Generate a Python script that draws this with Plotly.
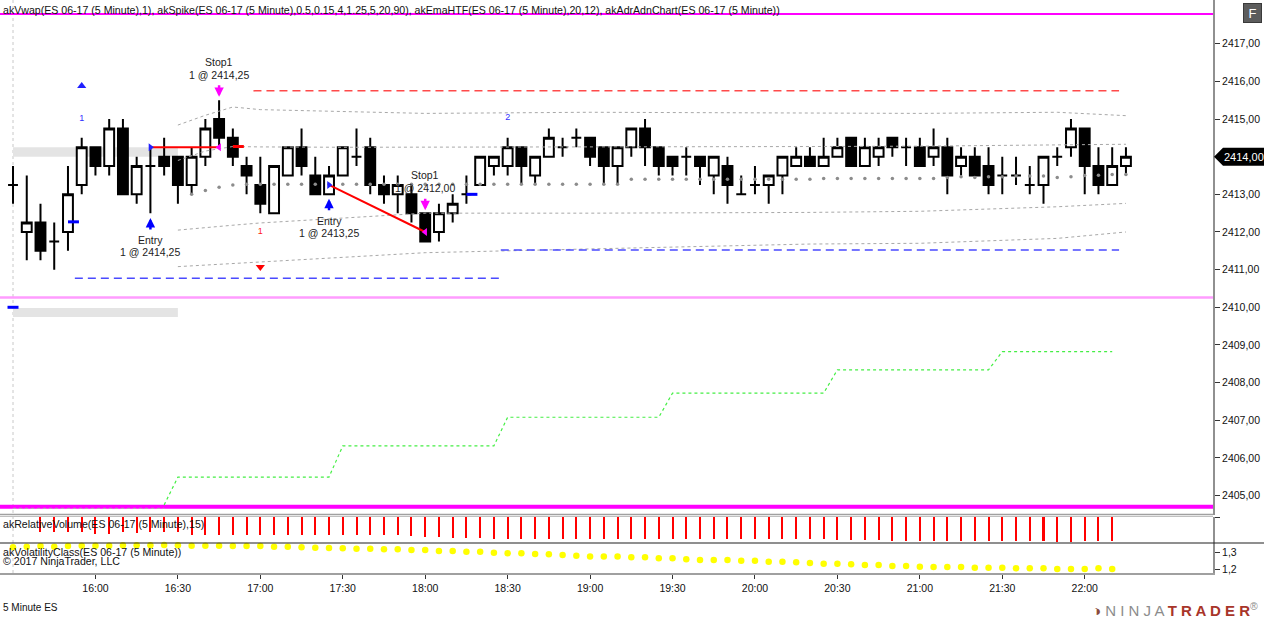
import plotly.graph_objects as go
from datetime import datetime, timedelta

# ---------------------------------------------------------------- data
def t(hm):
    p = [int(v) for v in hm.split(":")]
    while len(p) < 3:
        p.append(0)
    return datetime(2017, 5, 25, p[0], p[1], p[2])

bar_times = [t("15:30") + timedelta(minutes=5 * i) for i in range(82)]

opens = [2413.25, 2412.0, 2412.25, 2411.75, 2412.0, 2413.25, 2414.25, 2413.75, 2414.75, 2413.0,
         2413.75, 2414.0, 2414.0, 2413.25, 2414.0, 2415.0, 2414.5, 2413.75, 2413.25, 2412.5,
         2413.5, 2414.25, 2413.5, 2413.0, 2413.5, 2414.0, 2414.25, 2413.25, 2413.0, 2413.0,
         2412.5, 2412.0, 2412.5, 2413.0, 2413.25, 2413.75, 2413.75, 2414.25, 2413.5, 2414.0,
         2414.25, 2414.5, 2414.5, 2414.25, 2413.75, 2414.25, 2414.75, 2414.25, 2414.0, 2414.0,
         2414.0, 2413.5, 2413.75, 2413.0, 2413.25, 2413.25, 2413.5, 2413.75, 2414.0, 2413.75,
         2414.0, 2414.5, 2413.75, 2414.0, 2414.5, 2414.25, 2414.25, 2414.0, 2414.25, 2413.75,
         2414.0, 2413.75, 2413.5, 2413.5, 2413.25, 2413.25, 2414.0, 2414.25, 2414.75, 2413.75,
         2413.25, 2413.75]
highs = [2413.75, 2413.5, 2412.75, 2412.25, 2413.75, 2414.5, 2414.25, 2415.0, 2415.0, 2414.0,
         2414.25, 2414.5, 2414.0, 2414.25, 2415.0, 2415.5, 2414.75, 2414.0, 2414.0, 2413.75,
         2414.25, 2414.75, 2414.0, 2413.75, 2414.25, 2414.75, 2414.5, 2413.5, 2413.5, 2413.25,
         2412.5, 2412.75, 2413.0, 2413.5, 2414.0, 2414.0, 2414.5, 2414.25, 2414.0, 2414.75,
         2414.5, 2414.75, 2414.5, 2414.25, 2414.25, 2414.75, 2415.0, 2414.25, 2414.0, 2414.25,
         2414.0, 2414.0, 2414.0, 2413.5, 2413.75, 2413.5, 2414.0, 2414.25, 2414.25, 2414.5,
         2414.5, 2414.5, 2414.5, 2414.5, 2414.5, 2414.5, 2414.5, 2414.75, 2414.5, 2414.25,
         2414.25, 2414.25, 2414.0, 2414.0, 2413.75, 2414.0, 2414.25, 2415.0, 2414.75, 2414.25,
         2414.25, 2414.25]
lows = [2412.75, 2411.25, 2411.25, 2411.0, 2411.5, 2413.0, 2413.5, 2413.5, 2413.0, 2412.75,
        2412.5, 2413.5, 2412.75, 2413.0, 2413.75, 2414.25, 2413.75, 2413.0, 2412.5, 2412.5,
        2413.5, 2413.5, 2413.0, 2413.0, 2413.5, 2413.75, 2413.0, 2412.75, 2412.5, 2412.25,
        2411.75, 2411.75, 2412.25, 2412.75, 2413.25, 2413.5, 2413.5, 2413.25, 2413.25, 2414.0,
        2414.0, 2414.25, 2413.75, 2413.25, 2413.25, 2414.0, 2413.75, 2413.5, 2413.5, 2413.5,
        2413.25, 2413.0, 2412.75, 2413.0, 2413.0, 2412.75, 2413.0, 2413.75, 2413.75, 2413.75,
        2414.0, 2413.75, 2413.75, 2413.75, 2414.0, 2413.75, 2413.75, 2413.75, 2413.0, 2413.5,
        2413.5, 2413.0, 2413.0, 2413.25, 2413.0, 2412.75, 2413.75, 2414.0, 2413.0, 2413.0,
        2413.25, 2413.5]
closes = [2413.25, 2412.25, 2411.5, 2411.75, 2413.0, 2414.25, 2413.75, 2414.75, 2413.0, 2413.75,
          2413.75, 2413.75, 2413.25, 2414.0, 2414.75, 2414.5, 2414.0, 2413.5, 2412.75, 2413.75,
          2414.25, 2413.75, 2413.0, 2413.5, 2414.25, 2414.0, 2413.25, 2413.0, 2413.25, 2412.5,
          2411.75, 2412.5, 2412.75, 2413.0, 2414.0, 2414.0, 2414.25, 2413.75, 2414.0, 2414.5,
          2414.25, 2414.5, 2414.0, 2413.75, 2414.25, 2414.75, 2414.25, 2413.75, 2413.75, 2414.0,
          2413.75, 2414.0, 2413.25, 2413.0, 2413.25, 2413.5, 2414.0, 2414.0, 2413.75, 2414.0,
          2414.25, 2413.75, 2414.25, 2414.25, 2414.25, 2414.25, 2413.75, 2414.25, 2413.5, 2414.0,
          2413.5, 2413.25, 2413.5, 2413.5, 2413.25, 2414.0, 2414.0, 2414.75, 2413.75, 2413.25,
          2413.75, 2414.0]

# VWAP bands (sparse readings)
band_times = ["16:30", "16:40", "16:50", "17:00", "17:30", "18:00", "19:00", "20:20", "21:00", "21:50", "22:15"]
band_upper = [2414.84, 2415.10, 2415.32, 2415.25, 2415.20, 2415.15, 2415.18, 2415.16, 2415.15, 2415.18, 2415.09]
band_mid = [2413.90, 2414.15, 2414.27, 2414.26, 2414.25, 2414.25, 2414.27, 2414.27, 2414.28, 2414.32, 2414.33]
band_low1 = [2412.05, 2412.12, 2412.18, 2412.24, 2412.38, 2412.50, 2412.50, 2412.52, 2412.55, 2412.67, 2412.76]
band_low2 = [2411.08, 2411.12, 2411.17, 2411.21, 2411.34, 2411.45, 2411.55, 2411.68, 2411.70, 2411.83, 2412.00]

# grey EMA dots, bars 14..82
ema_dots = [2413.0, 2413.1, 2413.19, 2413.25,
            2413.27, 2413.27, 2413.27, 2413.27, 2413.27, 2413.27, 2413.27, 2413.27, 2413.27, 2413.27,
            2413.27, 2413.27, 2413.27, 2413.27, 2413.27, 2413.27, 2413.27, 2413.27, 2413.27, 2413.27,
            2413.27, 2413.27, 2413.27, 2413.27, 2413.27, 2413.27, 2413.27, 2413.27,
            2413.4, 2413.4, 2413.4, 2413.4, 2413.4, 2413.4, 2413.4, 2413.4, 2413.4, 2413.4,
            2413.4, 2413.4, 2413.4, 2413.4,
            2413.42, 2413.42, 2413.42, 2413.42, 2413.42, 2413.42, 2413.42, 2413.42, 2413.42,
            2413.45, 2413.47, 2413.45, 2413.47, 2413.47, 2413.49, 2413.49, 2413.49, 2413.45, 2413.47,
            2413.5, 2413.51, 2413.53, 2413.53]

# ADR chart: step line (bars 12..81), pre-line (bars 1..12), levels
adr_step = [2404.75,
            2405.49, 2405.49, 2405.49, 2405.49, 2405.49, 2405.49, 2405.49, 2405.49, 2405.49, 2405.49, 2405.49, 2405.49,
            2406.32, 2406.32, 2406.32, 2406.32, 2406.32, 2406.32, 2406.32, 2406.32, 2406.32, 2406.32, 2406.32, 2406.32,
            2407.08, 2407.08, 2407.08, 2407.08, 2407.08, 2407.08, 2407.08, 2407.08, 2407.08, 2407.08, 2407.08, 2407.08,
            2407.72, 2407.72, 2407.72, 2407.72, 2407.72, 2407.72, 2407.72, 2407.72, 2407.72, 2407.72, 2407.72, 2407.72,
            2408.34, 2408.34, 2408.34, 2408.34, 2408.34, 2408.34, 2408.34, 2408.34, 2408.34, 2408.34, 2408.34, 2408.34,
            2408.82, 2408.82, 2408.82, 2408.82, 2408.82, 2408.82, 2408.82, 2408.82, 2408.82]
adr_pre = [2404.66, 2404.66, 2404.66, 2404.66, 2404.66, 2404.66, 2404.66, 2404.66, 2404.66, 2404.66, 2404.66, 2404.66]
adr_levels = [2417.79, 2410.26, 2404.70]
adr_colors = ["#ff00ff", "#ff9cff", "#ff00ff"]
adr_widths = [2, 2.5, 4]

# grey zones (start, end, low, high)
zone_start = ["15:30", "15:30"]
zone_end = ["16:30", "16:30"]
zone_low = [2414.0, 2409.74]
zone_high = [2414.25, 2409.98]

# spike dashed levels
spike_lv_price = [2415.75, 2410.77, 2411.52]
spike_lv_start = ["16:57:30", "15:52:30", "18:27:30"]
spike_lv_end = ["22:12:30", "18:27:30", "22:12:30"]
spike_lv_color = ["#ff4a4a", "#4a4aff", "#4a4aff"]

# spike markers
spike_up_time, spike_up_price = ["15:55"], [2415.88]
spike_dn_time, spike_dn_price = ["17:00"], [2411.07]
spike_num_time = ["15:55", "17:00", "18:30"]
spike_num_price = [2415.0, 2412.0, 2415.03]
spike_num_text = ["1", "1", "2"]
spike_num_color = ["#3030ff", "#ff2020", "#3030ff"]

# short dashes (start, end, price, colour)
dash_start = ["15:28", "15:50", "18:15", "16:50"]
dash_end = ["15:32", "15:54", "18:19", "16:54"]
dash_price = [2410.0, 2412.27, 2413.0, 2414.27]
dash_color = ["#0000ff", "#0000ff", "#0000ff", "#ff0000"]

# trades
entry_time = ["16:20", "17:25"]
entry_price = [2414.25, 2413.25]
entry_tip = [2412.37, 2412.88]
exit_time = ["16:45", "18:00"]
exit_price = [2414.25, 2412.00]
exit_tip = [2415.59, 2412.58]
qty = [1, 1]

# relative volume (bars 3..81)
relvol = [0.75, 0.75, 0.75, 0.75, 0.83, 0.83, 0.75, 0.8, 0.75, 0.75, 0.75,
          0.92, 0.92, 0.92, 0.92, 0.92, 0.92, 0.92, 0.92, 0.92, 0.92, 0.92, 0.92, 0.92, 0.92, 0.92, 0.92,
          0.97, 1.0, 1.0, 1.03, 1.03, 1.03, 1.08, 1.08, 1.08, 1.08, 1.08, 1.08, 1.12, 1.12, 1.12,
          1.08, 1.08, 1.08, 1.08, 1.08, 1.12, 1.12, 1.12, 1.12, 1.12, 1.12, 1.12, 1.08, 1.12, 1.12, 1.12, 1.15,
          1.13, 1.13, 1.17, 1.2, 1.2, 1.2, 1.2, 1.2, 1.2, 1.2, 1.2, 1.2, 1.2, 1.2, 1.2, 1.25, 1.25, 1.2, 1.2, 1.2]

# volatility class (bars 1..81)
volclass = [1.333, 1.337, 1.341, 1.337, 1.341, 1.343, 1.343, 1.343, 1.345, 1.345,
            1.345, 1.347, 1.345, 1.343, 1.343, 1.343, 1.341, 1.341, 1.341, 1.337,
            1.337, 1.333, 1.331, 1.329, 1.327, 1.325, 1.325, 1.321, 1.321, 1.317,
            1.317, 1.310, 1.310, 1.306, 1.306, 1.300, 1.296, 1.296, 1.292, 1.290,
            1.286, 1.282, 1.276, 1.276, 1.276, 1.272, 1.272, 1.266, 1.266, 1.260,
            1.255, 1.255, 1.255, 1.251, 1.251, 1.245, 1.245, 1.241, 1.237, 1.233,
            1.233, 1.229, 1.225, 1.225, 1.218, 1.218, 1.214, 1.212, 1.212, 1.212,
            1.208, 1.208, 1.208, 1.204, 1.204, 1.204, 1.200, 1.200, 1.200, 1.204, 1.200]

time_ticks = ["16:00", "16:30", "17:00", "17:30", "18:00", "18:30", "19:00", "19:30",
              "20:00", "20:30", "21:00", "21:30", "22:00"]
price_ticks = [2405, 2406, 2407, 2408, 2409, 2410, 2411, 2412, 2413, 2414, 2415, 2416, 2417]
vol_ticks = [1.2, 1.3]

# ---------------------------------------------------------------- layout geometry
X_LO, X_HI = t("15:25:16"), t("22:46:41")
P_LO, P_HI = 2404.483, 2418.162
PLOT_W, PLOT_H = 1213, 573
FONT = "Liberation Sans, Arial, sans-serif"

def PX(x):
    return x / PLOT_W

def PY(y):
    return (PLOT_H - y) / PLOT_H

def fmt(v):
    return f"{v:.2f}".replace(".", ",")

fig = go.Figure()

# ADR levels
for lv, col, w in zip(adr_levels, adr_colors, adr_widths):
    fig.add_trace(go.Scatter(x=[X_LO, X_HI], y=[lv, lv], mode="lines",
                             line=dict(color=col, width=w), hoverinfo="skip"))

# ADR step line
fig.add_trace(go.Scatter(x=bar_times[0:12], y=adr_pre, mode="lines",
                         line=dict(color="#b0b0b0", width=1, dash="dot")))
fig.add_trace(go.Scatter(x=bar_times[11:81], y=adr_step, mode="lines",
                         line=dict(color="#44ee44", width=1.2, dash="dot")))

# VWAP bands
bt = [t(v) for v in band_times]
for band in (band_upper, band_mid, band_low1, band_low2):
    fig.add_trace(go.Scatter(x=bt, y=band, mode="lines",
                             line=dict(color="#a8a8a8", width=1, dash="dot")))

# spike dashed levels
for p, s, e, c in zip(spike_lv_price, spike_lv_start, spike_lv_end, spike_lv_color):
    fig.add_trace(go.Scatter(x=[t(s), t(e)], y=[p, p], mode="lines",
                             line=dict(color=c, width=1.5, dash="8px,5px")))

# candles
fig.add_trace(go.Candlestick(
    x=bar_times, open=opens, high=highs, low=lows, close=closes,
    increasing=dict(line=dict(color="black", width=2), fillcolor="white"),
    decreasing=dict(line=dict(color="black", width=2), fillcolor="black"),
    whiskerwidth=0, hoverinfo="skip"))

# EMA dots
fig.add_trace(go.Scatter(x=bar_times[13:82], y=ema_dots, mode="markers",
                         marker=dict(color="#8c8c8c", size=3.5)))

# short dashes
for s, e, p, c in zip(dash_start, dash_end, dash_price, dash_color):
    fig.add_trace(go.Scatter(x=[t(s), t(e)], y=[p, p], mode="lines",
                             line=dict(color=c, width=3)))

# trade lines
for et, ep, xt, xp in zip(entry_time, entry_price, exit_time, exit_price):
    fig.add_trace(go.Scatter(x=[t(et), t(xt)], y=[ep, xp], mode="lines",
                             line=dict(color="#ff0000", width=2)))
fig.add_trace(go.Scatter(x=[t(v) for v in entry_time], y=entry_price, mode="markers",
                         marker=dict(symbol="triangle-right", size=7, color="#2020ff")))
fig.add_trace(go.Scatter(x=[t(v) for v in exit_time], y=exit_price, mode="markers",
                         marker=dict(symbol="triangle-left", size=7, color="#ff00ff")))

# spike markers
fig.add_trace(go.Scatter(x=[t(v) for v in spike_up_time], y=spike_up_price, mode="markers",
                         marker=dict(symbol="triangle-up", size=8, color="#2020ff")))
fig.add_trace(go.Scatter(x=[t(v) for v in spike_dn_time], y=spike_dn_price, mode="markers",
                         marker=dict(symbol="triangle-down", size=8, color="#ff0000")))
fig.add_trace(go.Scatter(x=[t(v) for v in spike_num_time], y=spike_num_price, mode="text",
                         text=spike_num_text,
                         textfont=dict(family=FONT, size=9, color=spike_num_color)))

# relative volume panel
fig.add_trace(go.Bar(x=bar_times[2:81], y=relvol, yaxis="y2", width=44000,
                     marker=dict(color="#ff0000", line=dict(width=0))))

# volatility panel
fig.add_trace(go.Scatter(x=bar_times[0:81], y=volclass, yaxis="y3", mode="markers",
                         cliponaxis=False, marker=dict(color="#ffff00", size=6.5)))

# ---------------------------------------------------------------- shapes
shapes = []
for s, e, lo, hi in zip(zone_start, zone_end, zone_low, zone_high):
    shapes.append(dict(type="rect", xref="x", yref="y", x0=t(s), x1=t(e), y0=lo, y1=hi,
                       fillcolor="#e4e4e4", line=dict(width=0), layer="below"))
shapes.append(dict(type="line", xref="x", yref="paper", x0=bar_times[0], x1=bar_times[0],
                   y0=0, y1=1, line=dict(color="#c8c8c8", width=1, dash="dot"), layer="below"))
# panel separators
shapes.append(dict(type="line", xref="paper", yref="paper", x0=0, x1=1, y0=PY(514.5), y1=PY(514.5),
                   line=dict(color="#a0a0a0", width=1.5)))
shapes.append(dict(type="line", xref="paper", yref="paper", x0=0, x1=1, y0=PY(516.5), y1=PY(516.5),
                   line=dict(color="#c0c0c0", width=1)))
shapes.append(dict(type="line", xref="paper", yref="paper", x0=0, x1=1264 / PLOT_W, y0=PY(543), y1=PY(543),
                   line=dict(color="#202020", width=1.2)))
# last price box
last = closes[-1]
shapes.append(dict(type="path", xref="paper", yref="y", xsizemode="pixel", ysizemode="pixel",
                   xanchor=1.0, yanchor=last, path="M1,0 L10,-9 L52,-9 L52,9 L10,9 Z",
                   fillcolor="black", line=dict(width=0)))

# ---------------------------------------------------------------- annotations
ann = []
txt = dict(family=FONT, size=10.5, color="#222222")
for et, tip, p, q in zip(entry_time, entry_tip, entry_price, qty):
    ann.append(dict(x=t(et), y=tip, xref="x", yref="y", text="", showarrow=True,
                    ax=0, ay=13, arrowhead=2, arrowsize=0.75, arrowwidth=2.5, arrowcolor="#0000ff",
                    standoff=0, startstandoff=0))
    ann.append(dict(x=t(et), y=tip, xref="x", yref="y", text="Entry", showarrow=False,
                    yshift=-22, font=txt))
    ann.append(dict(x=t(et), y=tip, xref="x", yref="y", text=f"{q} @ {fmt(p)}", showarrow=False,
                    yshift=-34, font=txt))
for xt, tip, p, q in zip(exit_time, exit_tip, exit_price, qty):
    ann.append(dict(x=t(xt), y=tip, xref="x", yref="y", text="", showarrow=True,
                    ax=0, ay=-13, arrowhead=2, arrowsize=0.75, arrowwidth=2.5, arrowcolor="#ff00ff",
                    standoff=0, startstandoff=0))
    ann.append(dict(x=t(xt), y=tip, xref="x", yref="y", text="Stop1", showarrow=False,
                    yshift=35, font=txt))
    ann.append(dict(x=t(xt), y=tip, xref="x", yref="y", text=f"{q} @ {fmt(p)}", showarrow=False,
                    yshift=22, font=txt))

lab = dict(family=FONT, size=10.6, color="#111111")
ann.append(dict(x=0, y=PY(10), xref="paper", yref="paper", xanchor="left", yanchor="middle", xshift=1,
                showarrow=False, font=lab,
                text="akVwap(ES 06-17 (5 Minute),1), akSpike(ES 06-17 (5 Minute),0.5,0.15,4,1.25,5,20,90), "
                     "akEmaHTF(ES 06-17 (5 Minute),20,12), akAdrAdnChart(ES 06-17 (5 Minute))"))
ann.append(dict(x=0, y=PY(524), xref="paper", yref="paper", xanchor="left", yanchor="middle", xshift=1,
                showarrow=False, font=lab, text="akRelativeVolume(ES 06-17 (5 Minute),15)"))
ann.append(dict(x=0, y=PY(552), xref="paper", yref="paper", xanchor="left", yanchor="middle", xshift=1,
                showarrow=False, font=lab, text="akVolatilityClass(ES 06-17 (5 Minute))"))
ann.append(dict(x=0, y=PY(561), xref="paper", yref="paper", xanchor="left", yanchor="middle", xshift=1,
                showarrow=False, font=lab, text="© 2017 NinjaTrader, LLC"))
ann.append(dict(x=0, y=PY(607), xref="paper", yref="paper", xanchor="left", yanchor="middle", xshift=1,
                showarrow=False, font=dict(family=FONT, size=10, color="#111111"), text="5 Minute ES"))
ann.append(dict(x=PX(1260), y=PY(609), xref="paper", yref="paper", xanchor="right", yanchor="middle",
                showarrow=False, font=dict(family=FONT, size=15, color="#8c8c8c"),
                text='<span style="color:#8a4a3c">◑</span> N I N J A '
                     '<b><span style="color:#a8352a">T R A D E R</span></b><sup>®</sup>'))
ann.append(dict(x=PX(1252), y=PY(13), xref="paper", yref="paper", xanchor="center", yanchor="middle",
                showarrow=False, text="F", font=dict(family=FONT, size=13, color="white"),
                bgcolor="#5c5c5c", bordercolor="#3a3a3a", borderwidth=1, width=15, height=16))
ann.append(dict(x=1.0, y=last, xref="paper", yref="y", xanchor="left", yanchor="middle", xshift=9,
                showarrow=False, text=fmt(last), font=dict(family=FONT, size=11, color="white")))

tickfont = dict(family=FONT, size=10.5, color="#111111")
fig.update_layout(
    width=1264, height=617,
    margin=dict(l=0, r=1264 - PLOT_W, t=0, b=617 - PLOT_H),
    paper_bgcolor="white", plot_bgcolor="white",
    showlegend=False, hovermode=False, separators=",.",
    bargap=0, boxgap=0.28, boxgroupgap=0,
    shapes=shapes, annotations=ann,
    xaxis=dict(type="date", range=[X_LO, X_HI], domain=[0, 1], anchor="y3",
               tickvals=[t(v) for v in time_ticks], ticktext=time_ticks,
               ticks="outside", ticklen=4, tickcolor="#333333", tickfont=tickfont,
               showline=True, linecolor="#a0a0a0", linewidth=2, showgrid=False, zeroline=False,
               rangeslider=dict(visible=False), automargin=False),
    yaxis=dict(domain=[PY(515), 1.0], range=[P_LO, P_HI], side="right", anchor="x",
               tickvals=price_ticks, tickformat=".2f", ticks="outside", ticklen=5, tickcolor="#333333",
               tickfont=tickfont, showline=True, linecolor="#909090", linewidth=2,
               showgrid=False, zeroline=False, automargin=False),
    yaxis2=dict(domain=[PY(543), PY(517)], range=[1.3, 0], side="right", anchor="x",
                tickvals=[0], showticklabels=False, ticks="outside", ticklen=5, tickcolor="#333333",
                showline=True, linecolor="#909090", linewidth=2,
                showgrid=False, zeroline=False, automargin=False),
    yaxis3=dict(domain=[0, PY(543)], range=[1.1755, 1.3595], side="right", anchor="x",
                tickvals=vol_ticks, tickformat=".1f", ticks="outside", ticklen=5, tickcolor="#333333",
                tickfont=tickfont, showline=True, linecolor="#909090", linewidth=2,
                showgrid=False, zeroline=False, automargin=False),
)

fig.write_html("out.html", config={"displayModeBar": False},
               post_script="document.body.style.margin='0';document.body.style.overflow='hidden';")
